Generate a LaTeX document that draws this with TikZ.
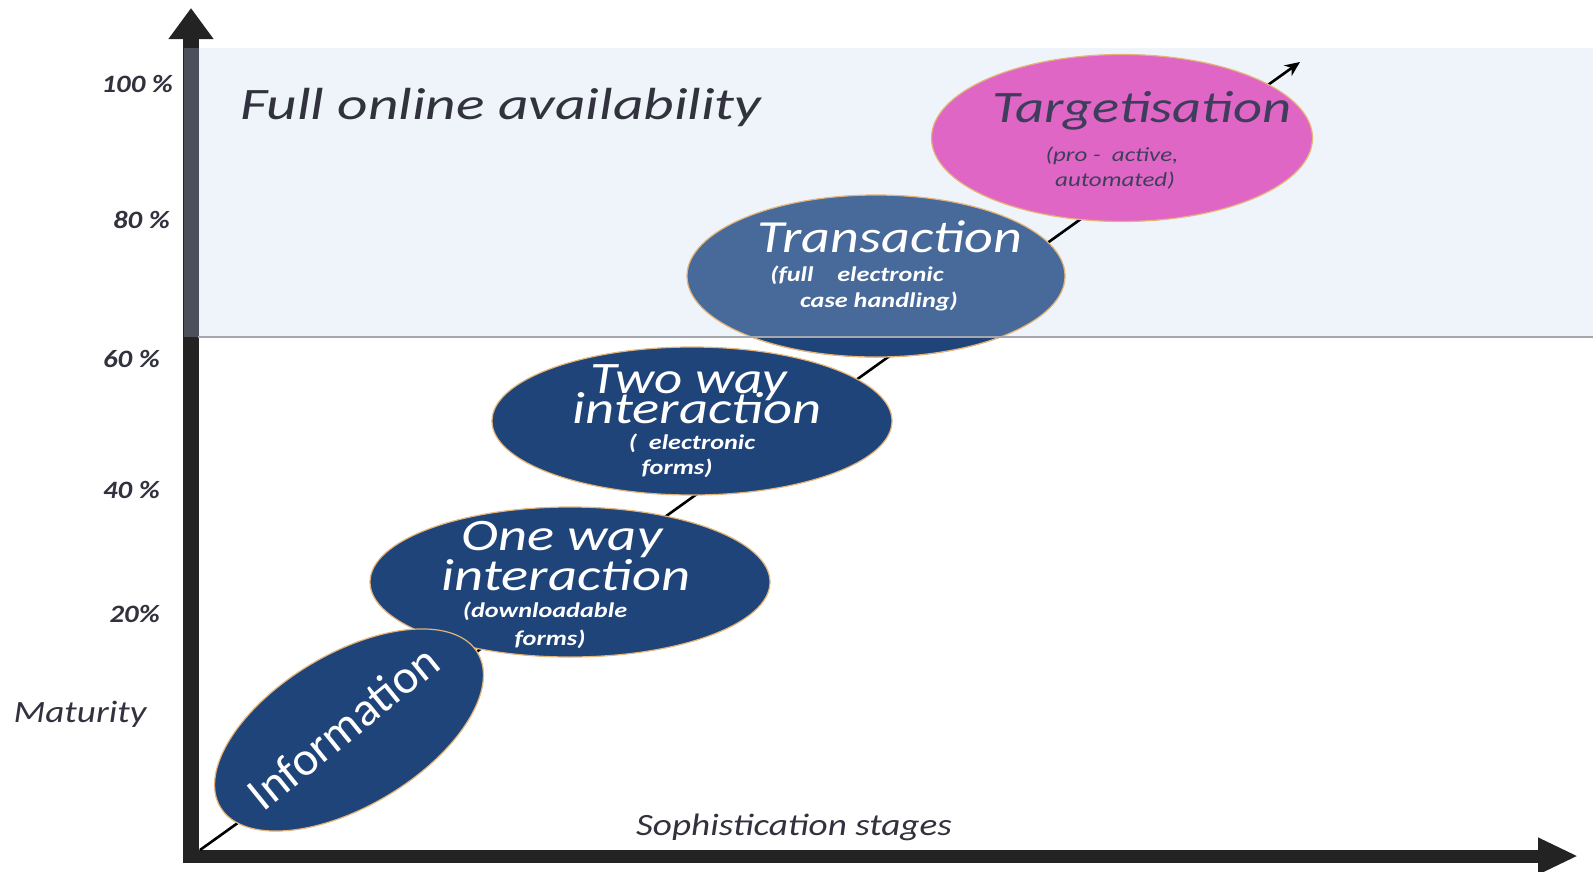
\documentclass[tikz,border=0pt]{standalone}
\usepackage{fontspec}
\setmainfont{Carlito}
\usetikzlibrary{shapes.geometric,arrows.meta}
\definecolor{dkblue}{RGB}{31,68,121}
\definecolor{trblue}{RGB}{71,106,155}
\definecolor{pinkfill}{RGB}{224,102,198}
\definecolor{bandfill}{RGB}{239,243,250}
\definecolor{bandline}{RGB}{165,168,175}
\definecolor{axisblack}{RGB}{35,35,35}
\definecolor{axisgray}{RGB}{76,80,90}
\definecolor{rimtan}{RGB}{228,180,120}
\definecolor{tgtext}{RGB}{62,62,92}
\definecolor{labtext}{RGB}{50,50,62}
\begin{document}
\begin{tikzpicture}[x=1pt,y=-1pt,
  stage/.style={ellipse, draw=rimtan, line width=1.2pt, fill=dkblue, inner sep=0pt},
  bigtxt/.style={font=\fontsize{45}{30}\selectfont\itshape, text=white, xscale=1.22, inner sep=0pt, anchor=base},
  infotxt/.style={font=\fontsize{48}{30}\selectfont, text=white, inner sep=0pt, anchor=center},
  subtxt/.style={font=\fontsize{21}{24}\selectfont\bfseries\itshape, text=white, xscale=1.25, inner sep=0pt, anchor=base},
  pct/.style={font=\fontsize{25}{28}\selectfont\bfseries\itshape, text=labtext, xscale=1.15, inner sep=0pt, anchor=base east},
  axislab/.style={font=\fontsize{31}{34}\selectfont\itshape, text=labtext, xscale=1.2, inner sep=0pt, anchor=base},
]
\useasboundingbox (0,0) rectangle (1593,871);

% full online availability band
\fill[bandfill] (198,48) rectangle (1593,337);

% axes
\coordinate (yo) at (191,863);
\coordinate (ytip) at (191,8);
\coordinate (xo) at (183,856);
\coordinate (xtip) at (1578,856);
\draw[axisblack, line width=16pt, -{Triangle[length=31pt,width=43pt]}] (yo) -- (ytip);
\fill[axisgray] (183.5,48) rectangle (198.5,337);
\draw[axisblack, line width=13pt, -{Triangle[length=40pt,width=34pt]}] (xo) -- (xtip);

% diagonal progression arrow
\coordinate (d0) at (200,850);
\coordinate (d1) at (1300,62);
\draw[black, line width=2.6pt, -{Stealth[length=15pt,width=13pt]}] (d0) -- (d1);

% stage ellipses
\node[stage, minimum width=400, minimum height=150] (oneway) at (570,582) {};
\node[stage, rotate=31, minimum width=300, minimum height=152] (info) at (349,730) {};
\node[stage, minimum width=400, minimum height=148] (twoway) at (692,421) {};
\node[stage, fill=trblue, minimum width=378, minimum height=162] (trans) at (876,276) {};
\begin{scope}
  \clip (0,337) rectangle (1593,871);
  \path[fill=dkblue, draw=rimtan, line width=1.2pt] (trans.center) ellipse [x radius=189, y radius=81];
\end{scope}
\node[stage, fill=pinkfill, minimum width=381, minimum height=167] (target) at (1122,138) {};

% band border line
\draw[bandline, line width=2pt] (198,337) -- (1593,337);

% texts in ellipses
\node[infotxt, rotate=39] (infot) at (343,727) {Information};

\node[bigtxt, xscale=1.03] (ow1) at (562,550) {One way};
\node[bigtxt, xscale=1.03] (ow2) at (566,590) {interaction};
\node[subtxt] (ow3) at (545,617) {(downloadable};
\node[subtxt] (ow4) at (550,645) {forms)};

\node[bigtxt] (tw1) at (689,393) {Two way};
\node[bigtxt, xscale=1.03] (tw2) at (697,423) {interaction};
\node[subtxt] (tw3) at (692,449) {(\ \ electronic};
\node[subtxt] (tw4) at (677,474) {forms)};

\node[bigtxt, font=\fontsize{46}{30}\selectfont\itshape] (tr1) at (890,252) {Transaction};
\node[subtxt] (tr2) at (857,281) {(full\ \ \ \ electronic};
\node[subtxt] (tr3) at (879,307) {case handling)};

\node[bigtxt, text=tgtext, xscale=1.03] (tg1) at (1142,122) {Targetisation};
\node[subtxt, text=tgtext, font=\fontsize{20}{24}\selectfont\itshape] (tg2) at (1112,161) {(pro -\ \ active,};
\node[subtxt, text=tgtext, font=\fontsize{20}{24}\selectfont\itshape] (tg3) at (1115,186) {automated)};

% band title and axis labels
\node[axislab, text=labtext, xscale=1.1, font=\fontsize{45}{30}\selectfont\itshape] (full) at (501,119) {Full online availability};
\node[axislab] (soph) at (794,835) {Sophistication stages};
\node[axislab] (mat) at (80,722) {Maturity};

\node[pct] (p100) at (173,92) {100 \%};
\node[pct] (p80) at (170,228) {80 \%};
\node[pct] (p60) at (160,367) {60 \%};
\node[pct] (p40) at (160,498) {40 \%};
\node[pct] (p20) at (160,622) {20\%};
\end{tikzpicture}
\end{document}
